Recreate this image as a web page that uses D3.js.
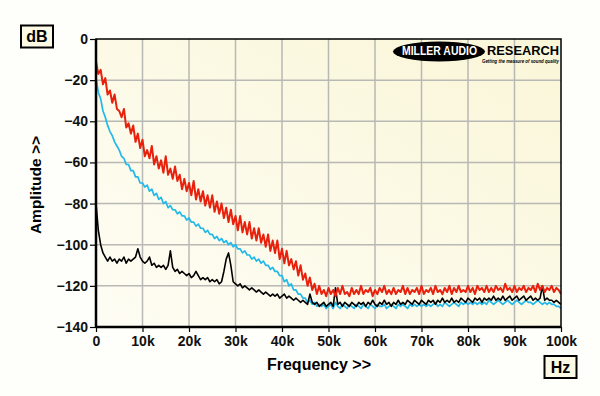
<!DOCTYPE html>
<html lang="en">
<head>
    <meta charset="UTF-8">
    <title>Amplitude vs Frequency</title>
    <script src="https://d3js.org/d3.v7.min.js"></script>
    <style>
        body {
            margin: 0;
            background: #fefefa;
            font-family: "Liberation Sans", Arial, sans-serif;
        }
        .tick-label {
            font-weight: bold;
            font-size: 14px;
            fill: #111;
        }
        .grid-line {
            stroke: #b8b8b4;
            stroke-width: 1.5;
        }
    </style>
</head>
<body>

<svg id="chart" width="600" height="396"></svg>

<script>
    // sample grid: every 500 Hz from 0 to 100 kHz
    const freqs = d3.range(0, 100001, 500);

    const yTicks = [0, -20, -40, -60, -80, -100, -120, -140];
    const xTicks = [0, 10000, 20000, 30000, 40000, 50000, 60000, 70000, 80000, 90000, 100000];
    const xTickLabels = ["0", "10k", "20k", "30k", "40k", "50k", "60k", "70k", "80k", "90k", "100k"];

    // red trace (dB)
    const redValues = [
        -11, -17, -15, -22, -19, -27, -25, -31, -27, -34, -35, -38, -34, -43, -41, -46, -42, -50, -46, -53,
        -49, -57, -54, -58, -52, -61, -57, -63, -59, -65, -57, -66, -63, -68, -62, -69, -66, -73, -68, -74,
        -70, -76, -69, -78, -73, -79, -74, -81, -76, -82, -76, -84, -79, -85, -80, -87, -82, -89, -83, -90,
        -86, -93, -86, -94, -89, -95, -89, -97, -92, -98, -92, -99, -95, -101, -95, -103, -98, -104, -98, -107,
        -102, -109, -103, -110, -107, -112, -108, -115, -110, -117, -114, -120, -116, -122, -119, -124, -120, -124, -122, -125,
        -121,
        -124, -122, -125, -121, -124, -120, -124, -123, -125, -121,
        -124, -122, -124, -120, -124, -122, -123, -121, -125, -122,
        -124, -121, -123, -120, -124, -122, -124, -121, -124, -122,
        -123, -120, -124, -121, -124, -122, -123, -121, -124, -120,
        -124, -122, -123, -121, -124, -120, -123, -122, -124, -121,
        -123, -120, -124, -121, -123, -120, -123, -122, -123, -120,
        -123, -121, -124, -120, -122, -121, -123, -120, -123, -121,
        -123, -120, -122, -121, -123, -119, -122, -121, -123, -120,
        -123, -121, -122, -120, -123, -121, -122, -120, -123, -119,
        -122, -120, -123, -121, -122, -120, -123, -121, -122, -124
    ];

    // blue trace (dB)
    const blueValues = [
        -19, -26, -29, -35, -38, -42, -45, -47, -50, -52, -54, -57, -58, -61, -61, -64, -64, -67, -67, -70,
        -70, -72, -71, -74, -73, -76, -75, -78, -77, -80, -79, -82, -81, -83, -83, -85, -84, -86, -86, -88,
        -87, -89, -89, -91, -90, -92, -92, -94, -93, -95, -95, -97, -96, -98, -97, -99, -98, -100, -99, -101,
        -100, -102, -102, -104, -103, -105, -105, -107, -106, -108, -107, -109, -108, -110, -110, -112, -111, -113, -113, -115,
        -115, -118, -117, -120, -119, -122, -122, -124, -124, -126, -126, -128, -127, -129, -128, -130, -129, -130, -129, -131,
        -130,
        -129, -131, -128, -130, -131, -129, -130, -131, -129, -130,
        -131, -129, -130, -131, -129, -130, -131, -129, -130, -131,
        -129, -130, -130, -129, -131, -130, -129, -130, -131, -129,
        -130, -129, -130, -131, -129, -130, -129, -130, -129, -130,
        -129, -130, -129, -130, -129, -128, -130, -129, -130, -128,
        -129, -130, -129, -128, -129, -130, -128, -129, -128, -129,
        -128, -129, -128, -129, -128, -129, -128, -129, -127, -128,
        -129, -128, -127, -128, -129, -128, -127, -128, -129, -128,
        -127, -128, -129, -128, -127, -128, -128, -129, -128, -127,
        -128, -129, -128, -129, -128, -129, -129, -130, -130, -131
    ];

    // black trace (dB)
    const blackValues = [
        -80, -93, -100, -104, -106, -108, -106, -108, -107, -109, -107, -108, -106, -109, -107, -108, -107, -106, -102, -106,
        -108, -109, -108, -106, -110, -109, -111, -110, -111, -110, -112, -110, -103, -111, -113, -112, -114, -113, -114, -115,
        -114, -116, -115, -113, -115, -117, -116, -117, -116, -118, -117, -118, -117, -119, -118, -113, -107, -104, -110, -118,
        -119, -120, -119, -121, -120, -121, -122, -121, -122, -123, -122, -123, -124, -123, -124, -125, -124, -125, -124, -126,
        -125, -124, -126, -125, -126, -127, -126, -127, -128, -127, -128, -129, -124, -128, -129, -128, -130, -129, -128, -130,
        -129,
        -128, -130, -121, -129, -128, -130, -128, -129, -130, -128,
        -129, -130, -128, -129, -128, -130, -128, -129, -127, -129,
        -130, -128, -129, -127, -129, -128, -130, -128, -129, -127,
        -129, -128, -129, -127, -128, -129, -127, -128, -129, -127,
        -128, -129, -127, -128, -127, -129, -127, -128, -126, -128,
        -127, -128, -126, -128, -127, -128, -126, -127, -128, -126,
        -127, -128, -126, -127, -126, -128, -126, -127, -126, -127,
        -125, -127, -126, -127, -125, -127, -126, -125, -127, -126,
        -125, -127, -126, -125, -127, -126, -125, -127, -126, -127,
        -126, -120, -127, -126, -127, -127, -128, -127, -128, -129
    ];

    const series = [
        { name: "blue", color: "#22b9ea", width: 1.7, values: blueValues },
        { name: "black", color: "#000000", width: 1.6, values: blackValues },
        { name: "red", color: "#e8200c", width: 2, values: redValues }
    ];

    const svg = d3.select("#chart");

    const x = d3.scaleLinear().domain([0, 100000]).range([96, 561]);
    const y = d3.scaleLinear().domain([-140, 0]).range([327, 39]);

    // plot background gradient
    const defs = svg.append("defs");
    const grad = defs.append("linearGradient")
        .attr("id", "bg")
        .attr("x1", "100%").attr("y1", "0%")
        .attr("x2", "0%").attr("y2", "100%");
    grad.append("stop").attr("offset", "0%").attr("stop-color", "#faf6d8");
    grad.append("stop").attr("offset", "100%").attr("stop-color", "#fefdf4");

    defs.append("clipPath").attr("id", "plotClip")
        .append("rect")
        .attr("x", x(0)).attr("y", y(0))
        .attr("width", x(100000) - x(0)).attr("height", y(-140) - y(0));

    svg.append("rect")
        .attr("x", x(0)).attr("y", y(0))
        .attr("width", x(100000) - x(0)).attr("height", y(-140) - y(0))
        .attr("fill", "url(#bg)");

    // grid
    xTicks.slice(1, -1).forEach(t => {
        svg.append("line").attr("class", "grid-line")
            .attr("x1", x(t)).attr("x2", x(t))
            .attr("y1", y(0)).attr("y2", y(-140));
    });
    yTicks.slice(1, -1).forEach(t => {
        svg.append("line").attr("class", "grid-line")
            .attr("x1", x(0)).attr("x2", x(100000))
            .attr("y1", y(t)).attr("y2", y(t));
    });

    // logo
    const logo = svg.append("g");
    logo.append("ellipse")
        .attr("cx", 439).attr("cy", 51.5).attr("rx", 46).attr("ry", 10)
        .attr("fill", "#000");
    logo.append("text")
        .attr("x", 402).attr("y", 55)
        .attr("textLength", 75).attr("lengthAdjust", "spacingAndGlyphs")
        .attr("font-size", "12px").attr("font-weight", "900")
        .attr("fill", "#fff")
        .text("MILLER AUDIO");
    logo.append("text")
        .attr("x", 487).attr("y", 55)
        .attr("textLength", 72).attr("lengthAdjust", "spacingAndGlyphs")
        .attr("font-size", "12px").attr("font-weight", "900")
        .attr("fill", "#000")
        .text("RESEARCH");
    logo.append("text")
        .attr("x", 482).attr("y", 62.5)
        .attr("textLength", 77).attr("lengthAdjust", "spacingAndGlyphs")
        .attr("font-size", "4.5px").attr("font-weight", "bold").attr("font-style", "italic")
        .attr("fill", "#000")
        .text("Getting the measure of sound quality");

    // traces
    const line = d3.line()
        .x((d, i) => x(freqs[i]))
        .y(d => y(d));

    const traces = svg.append("g").attr("clip-path", "url(#plotClip)");
    series.forEach(s => {
        traces.append("path")
            .datum(s.values)
            .attr("fill", "none")
            .attr("stroke", s.color)
            .attr("stroke-width", s.width)
            .attr("stroke-linejoin", "round")
            .attr("d", line);
    });

    // frame
    svg.append("rect")
        .attr("x", x(0)).attr("y", y(0))
        .attr("width", x(100000) - x(0)).attr("height", y(-140) - y(0))
        .attr("fill", "none").attr("stroke", "#000").attr("stroke-width", 1.5);

    // axes
    const yAxis = d3.axisLeft(y).tickValues(yTicks).tickSize(6).tickPadding(2);
    const gy = svg.append("g").attr("transform", `translate(${x(0)},0)`).call(yAxis);
    const xAxis = d3.axisBottom(x).tickValues(xTicks).tickSize(5).tickPadding(4)
        .tickFormat((d, i) => xTickLabels[i]);
    const gx = svg.append("g").attr("transform", `translate(0,${y(-140)})`).call(xAxis);

    [gx, gy].forEach(g => {
        g.select(".domain").attr("stroke", "#000").attr("stroke-width", 2.5);
        g.selectAll(".tick line").attr("stroke", "#000").attr("stroke-width", 1.2);
        g.selectAll(".tick text").attr("class", "tick-label").attr("fill", "#111");
    });
    gy.select(".domain").attr("d", `M0,${y(0)}V${y(-140)}`);
    gx.select(".domain").attr("d", `M${x(0)},0H${x(100000)}`);

    // axis titles
    svg.append("text")
        .attr("x", 319).attr("y", 370)
        .attr("text-anchor", "middle")
        .attr("font-size", "16px").attr("font-weight", "bold")
        .text("Frequency >>");

    svg.append("text")
        .attr("transform", "translate(41,185) rotate(-90)")
        .attr("text-anchor", "middle")
        .attr("font-size", "15.5px").attr("font-weight", "bold")
        .text("Amplitude >>");

    // unit boxes
    function unitBox(bx, by, w, h, label) {
        svg.append("rect")
            .attr("x", bx).attr("y", by).attr("width", w).attr("height", h)
            .attr("fill", "#fcf9e4").attr("stroke", "#000").attr("stroke-width", 2);
        svg.append("text")
            .attr("x", bx + w / 2).attr("y", by + h / 2 + 5.5)
            .attr("text-anchor", "middle")
            .attr("font-size", "16px").attr("font-weight", "bold")
            .text(label);
    }
    unitBox(21, 25.5, 32, 22, "dB");
    unitBox(544.5, 356, 32, 22, "Hz");
</script>

</body>
</html>
